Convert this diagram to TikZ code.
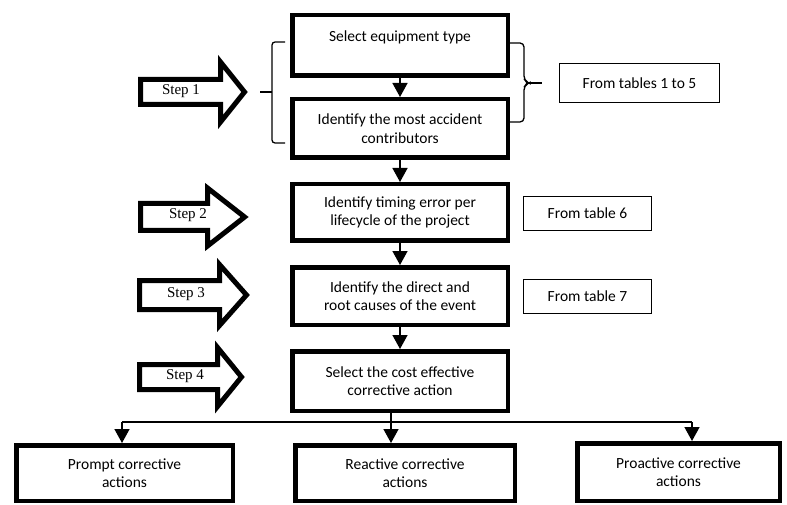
\documentclass[tikz,border=0pt]{standalone}
\usepackage{fontspec}
\setmainfont{Carlito}
\newfontfamily\stepfont{Liberation Serif}
\usetikzlibrary{arrows.meta,positioning}
\tikzset{
    mainbox/.style={draw, line width=4.5pt, minimum width=215.5pt, align=center, inner sep=2pt, font=\fontsize{15.5}{18.6}\selectfont},
    srcbox/.style={draw, line width=1pt, align=center, inner sep=2pt, font=\fontsize{15.5}{18.6}\selectfont},
    flow/.style={line width=1.5pt, -{Triangle[width=15pt,length=14pt]}},
    joinline/.style={line width=1.5pt},
    stepshape/.style={draw, line width=5pt},
    steplbl/.style={font=\stepfont\fontsize{15}{18}\selectfont},
    brk/.style={line width=1.3pt}
}
% block arrow: left, head base, tip, centre y, shaft half, head half
\newcommand{\stepshape}[6]{%
    \draw[stepshape] (#1,{#4-#5}) -- (#2,{#4-#5}) -- (#2,{#4-#6}) -- (#3,#4) -- (#2,{#4+#6}) -- (#2,{#4+#5}) -- (#1,{#4+#5}) -- cycle;}

\begin{document}
\begin{tikzpicture}[x=1pt,y=-1pt]
\useasboundingbox (0,0) rectangle (787,505);

% main chain
\node[mainbox, minimum height=60.5pt] (sel) at (400,45.5) {Select equipment type\\ \mbox{}};
\node[mainbox, minimum height=58.5pt] (most) at (400,128.5) {Identify the most accident\\contributors};
\node[mainbox, minimum height=56.5pt] (timing) at (400,212.5) {Identify timing error per\\lifecycle of the project};
\node[mainbox, minimum height=57.5pt] (causes) at (400,296) {Identify the direct and\\root causes of the event};
\node[mainbox, minimum height=59.5pt] (cost) at (400,381) {Select the cost effective\\corrective action};

\draw[flow] (sel) -- (most);
\draw[flow] (most) -- (timing);
\draw[flow] (timing) -- (causes);
\draw[flow] (causes) -- (cost);

% corrective actions
\node[mainbox, minimum width=216.5pt, minimum height=55.5pt] (pA) at (124.5,473) {Prompt corrective\\actions};
\node[mainbox, minimum width=219.5pt, minimum height=55.5pt] (pB) at (405,473) {Reactive corrective\\actions};
\node[mainbox, minimum width=202.5pt, minimum height=57.5pt] (pC) at (678.5,472) {Proactive corrective\\actions};

\coordinate (jA) at (122,422);
\coordinate (jB) at (391,422);
\coordinate (jC) at (692,422);
\draw[joinline] (cost.south -| jB) -- (jB);
\draw[joinline] (jA) -- (jC);
\draw[flow] (jA) -- (pA.north -| jA);
\draw[flow] (jB) -- (pB.north -| jB);
\draw[flow] (jC) -- (pC.north -| jC);

% sources
\node[srcbox, minimum width=160pt, minimum height=39pt] (tab15) at (639.5,83) {From tables 1 to 5};
\node[srcbox, minimum width=128pt, minimum height=34pt] (tab6) at (587.5,213.5) {From table 6};
\node[srcbox, minimum width=128pt, minimum height=34pt] (tab7) at (587.5,296.5) {From table 7};

% brackets
\draw[brk, rounded corners=3pt] (285,42) -- (272,42) -- (272,143) -- (285,143);
\draw[brk] (272,92) -- (260,92);
\draw[brk, rounded corners=4pt] (508,43) -- (524,43) -- (524,80) -- (529,83) -- (524,86) -- (524,122) -- (508,122);
\draw[brk] (528,83) -- (542,83);

% steps
\stepshape{140.5}{220.5}{244.5}{92}{12.5}{30}
\stepshape{140.5}{207.5}{244.6}{217}{13.5}{29}
\stepshape{139.5}{219.5}{246.5}{295}{14.5}{30.5}
\stepshape{139.5}{217.5}{241.5}{377}{12.5}{29.5}
\node[steplbl] (s1) at (181,91) {Step 1};
\node[steplbl] (s2) at (188,215) {Step 2};
\node[steplbl] (s3) at (186,294) {Step 3};
\node[steplbl] (s4) at (185,376) {Step 4};
\end{tikzpicture}
\end{document}
